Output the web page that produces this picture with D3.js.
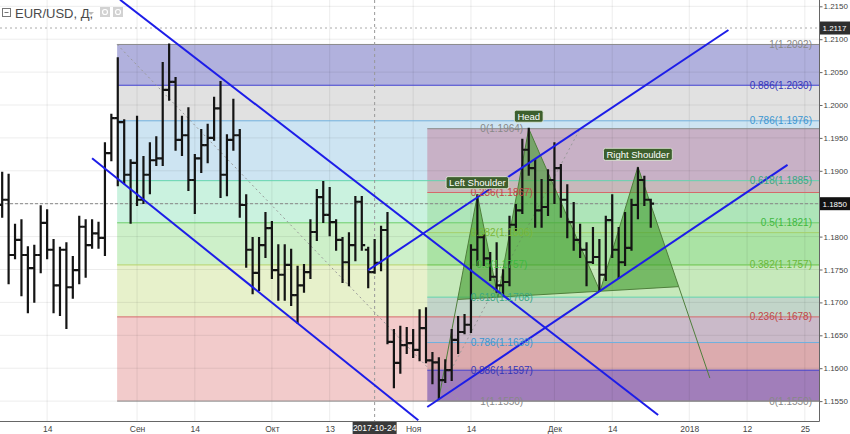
<!DOCTYPE html>
<html><head><meta charset="utf-8">
<script src="https://cdn.jsdelivr.net/npm/d3@7"></script>
<style>
body{margin:0;background:#fff;}
svg{display:block;font-family:"Liberation Sans",Arial,sans-serif;}
</style></head><body>
<svg id="c" width="850" height="434"></svg>
<script>
// ---------- DATA ----------
// bar index 0 = 2017-09-01 (trading-day index), first bar = -21 (2017-08-03)
const firstIndex = -21;
const opens = [1.1848,1.1856,1.1772,1.1795,1.1772,1.1752,1.1772,1.1821,1.1780,1.1726,1.1780,1.1723,1.1749,1.1815,1.1787,1.1805,1.1798,1.1927,1.1980,1.1974,1.1894,
1.1912,1.1856,1.1894,1.1916,1.1919,1.2023,1.2035,1.1947,1.1954,1.1886,1.1919,1.1939,1.1950,1.1995,1.1894,1.1947,1.1954,1.1848,1.1780,1.1745,1.1787,
1.1813,1.1749,1.1742,1.1757,1.1711,1.1726,1.1746,1.1807,1.1860,1.1833,1.1822,1.1795,1.1761,1.1787,1.1853,1.1780,1.1746,1.1760,1.1810,1.1640,1.1608,1.1635,
1.1638,1.1628,1.1661,1.1612,1.1609,1.1582,1.1597,1.1643,1.1655,1.1666,1.1780,1.1799,1.1767,1.1739,1.1726,1.1731,1.1818,1.1840,1.1932,1.1904,1.1840,1.1845,
1.1886,1.1904,1.1856,1.1822,1.1795,1.1780,1.1761,1.1769,1.1742,1.1825,1.1780,1.1761,1.1783,1.1848,1.1886,1.1856];
const highs = [1.1897,1.1894,1.1818,1.1825,1.1784,1.1786,1.1846,1.1840,1.1795,1.1783,1.1790,1.1769,1.1830,1.1825,1.1825,1.1821,1.1942,1.1985,1.2071,1.1977,1.1916,
1.1982,1.1921,1.1942,1.1951,1.2064,1.2092,1.2041,1.1982,1.1995,1.1924,1.1962,1.1970,1.2011,1.2035,1.1954,1.2008,1.1962,1.1863,1.1798,1.1798,1.1836,
1.1822,1.1787,1.1787,1.1780,1.1754,1.1757,1.1825,1.1871,1.1883,1.1874,1.1825,1.1798,1.1805,1.1860,1.1860,1.1783,1.1795,1.1815,1.1836,1.1658,1.1663,1.1661,
1.1658,1.1688,1.1691,1.1623,1.1615,1.1612,1.1658,1.1678,1.1681,1.1787,1.1863,1.1802,1.1775,1.1790,1.1749,1.1830,1.1848,1.1947,1.1964,1.1916,1.1886,1.1901,
1.1942,1.1909,1.1878,1.1851,1.1818,1.1790,1.1813,1.1795,1.1830,1.1863,1.1813,1.1836,1.1856,1.1904,1.1891,1.1856];
const lows = [1.1830,1.1729,1.1767,1.1711,1.1685,1.1701,1.1746,1.1767,1.1685,1.1681,1.1661,1.1707,1.1729,1.1739,1.1783,1.1783,1.1772,1.1916,1.1878,1.1881,1.1821,
1.1848,1.1851,1.1866,1.1909,1.1909,1.2008,1.1932,1.1924,1.1871,1.1836,1.1898,1.1913,1.1947,1.1860,1.1863,1.1932,1.1830,1.1754,1.1714,1.1719,1.1769,
1.1737,1.1704,1.1704,1.1696,1.1669,1.1716,1.1737,1.1795,1.1822,1.1802,1.1780,1.1731,1.1726,1.1764,1.1780,1.1723,1.1745,1.1749,1.1638,1.1571,1.1593,1.1623,
1.1617,1.1612,1.1609,1.1577,1.1554,1.1579,1.1582,1.1623,1.1653,1.1655,1.1757,1.1757,1.1734,1.1716,1.1711,1.1726,1.1810,1.1836,1.1894,1.1815,1.1815,1.1833,
1.1851,1.1830,1.1799,1.1780,1.1769,1.1726,1.1760,1.1718,1.1734,1.1769,1.1737,1.1757,1.1780,1.1828,1.1848,1.1815];
const closes = [1.1856,1.1772,1.1795,1.1772,1.1752,1.1772,1.1821,1.1780,1.1726,1.1780,1.1723,1.1749,1.1815,1.1787,1.1805,1.1798,1.1927,1.1980,1.1974,1.1894,1.1912,
1.1856,1.1894,1.1916,1.1919,1.2023,1.2035,1.1947,1.1954,1.1886,1.1919,1.1939,1.1950,1.1995,1.1894,1.1947,1.1954,1.1848,1.1780,1.1745,1.1787,1.1813,
1.1749,1.1742,1.1757,1.1711,1.1726,1.1746,1.1807,1.1860,1.1833,1.1822,1.1795,1.1761,1.1787,1.1853,1.1787,1.1746,1.1760,1.1810,1.1640,1.1608,1.1635,1.1638,
1.1628,1.1661,1.1612,1.1609,1.1582,1.1597,1.1643,1.1655,1.1666,1.1780,1.1799,1.1767,1.1739,1.1726,1.1731,1.1818,1.1840,1.1932,1.1904,1.1840,1.1845,1.1886,
1.1904,1.1856,1.1822,1.1795,1.1780,1.1761,1.1769,1.1742,1.1825,1.1780,1.1761,1.1783,1.1848,1.1886,1.1856,1.1850];

const xTickIdx = [-14,0,9,21,30,43,52,65,74,86,95,104];
const xTickLabels = ["14","Сен","14","Окт","13","Ноя","14","Дек","14","2018","12","25"];
const priceTicks = [1.155,1.160,1.165,1.170,1.175,1.180,1.185,1.190,1.195,1.200,1.205,1.210,1.215];

// Fibonacci retracements
const fibLStart = -3.1;
const fibLRatios = ["1","0.886","0.786","0.618","0.5","0.382","0.236","0"];
const fibLPrices = [1.2092,1.2030,1.1976,1.1885,1.1821,1.1757,1.1678,1.1550];
const fibLTrend = [[-3.1,1.2092],[50.3,1.1550]];
const fibRStart = 45.2;
const fibRRatios = ["0","0.236","0.382","0.5","0.618","0.786","0.886","1"];
const fibRPrices = [1.1964,1.1867,1.1806,1.1757,1.1708,1.1639,1.1597,1.1550];
const fibRTrend = [[46.3,1.1550],[69.0,1.1964]];
const fibRLabelIdx = 56.8;

// blue trend / channel lines [idx1, price1, idx2, price2]
const trendLines = [
  [-2.65,1.2160,81.15,1.1529],
  [-7.0,1.1919,43.8,1.1521],
  [36.0,1.1749,92.1,1.2114],
  [45.2,1.1541,101.3,1.1909]
];

// head & shoulders pattern points
const hsIdx   = [47, 53, 56.2, 61, 72.1, 78, 89.2];
const hsPrice = [1.1554, 1.1863, 1.1708, 1.1964, 1.1717, 1.1906, 1.1585];
const hsLabels = ["Left Shoulder","Head","Right Shoulder"];

const crossIdx = 37, crossLabel = "2017-10-24";
const crossPrice = 1.1850;
const markPrice = 1.2117;

// ---------- STYLES ----------
const fibLFill = ["#b1b1dd","#e1e1e1","#cde4f2","#caf2df","#cdf0c9","#e7f1cb","#f2cbcb"];
const fibLLine = ["#8a8a8a","#3f3fcf","#6eb0de","#63d3ae","#6acd6a","#b5d36a","#d46a6a","#8a8a8a"];
const fibLText = ["#888","#3535b8","#3c96d0","#3aa883","#40b840","#6ab83a","#c04848","#888"];
const fibRFill = ["rgba(195,115,145,0.45)","rgba(110,200,100,0.3)","rgba(90,200,80,0.3)","rgba(100,210,140,0.25)","rgba(110,150,200,0.3)","rgba(170,100,110,0.3)","rgba(80,50,170,0.5)"];
const fibRLine = ["#8a8a8a","#d46a6a","#a5d06a","#6acd6a","#63d3ae","#6eb0de","#3f3fcf","#8a8a8a"];
const fibRText = ["#888","#c04848","#7ab83a","#40b840","#3aa883","#3c96d0","#3535b8","#888"];

// ---------- CHART ----------
const plotR = 819, plotB = 421;
const svg = d3.select("#c");
const x = d3.scaleLinear().domain([-21.34, 106.2]).range([0, plotR]);
const y = d3.scaleLinear().domain([1.155, 1.215]).range([401.1, 6.3]);

svg.append("defs").append("clipPath").attr("id","clip")
  .append("rect").attr("x",0).attr("y",0).attr("width",plotR).attr("height",plotB);
const g = svg.append("g").attr("clip-path","url(#clip)");

// left fib bands
for (let k=0;k<fibLFill.length;k++){
  g.append("rect").attr("x",x(fibLStart)).attr("width",plotR-x(fibLStart))
   .attr("y",y(fibLPrices[k])).attr("height",y(fibLPrices[k+1])-y(fibLPrices[k]))
   .attr("fill",fibLFill[k]);
}
// right fib bands
for (let k=0;k<fibRFill.length;k++){
  g.append("rect").attr("x",x(fibRStart)).attr("width",plotR-x(fibRStart))
   .attr("y",y(fibRPrices[k])).attr("height",y(fibRPrices[k+1])-y(fibRPrices[k]))
   .attr("fill",fibRFill[k]);
}
// grid
g.selectAll(".vg").data(xTickIdx).enter().append("line")
  .attr("x1",d=>x(d)).attr("x2",d=>x(d)).attr("y1",0).attr("y2",plotB)
  .attr("stroke","rgba(0,0,0,0.075)").attr("stroke-width",1);
g.selectAll(".hg").data(priceTicks).enter().append("line")
  .attr("x1",0).attr("x2",plotR).attr("y1",d=>y(d)).attr("y2",d=>y(d))
  .attr("stroke","rgba(0,0,0,0.075)").attr("stroke-width",1);

// fib level lines
fibLPrices.forEach((p,k)=>{
  g.append("line").attr("x1",x(fibLStart)).attr("x2",plotR).attr("y1",y(p)).attr("y2",y(p))
   .attr("stroke",fibLLine[k]).attr("stroke-width",1);
});
fibRPrices.forEach((p,k)=>{
  g.append("line").attr("x1",x(fibRStart)).attr("x2",plotR).attr("y1",y(p)).attr("y2",y(p))
   .attr("stroke",fibRLine[k]).attr("stroke-width",1);
});
// fib dotted trend lines
[fibLTrend,fibRTrend].forEach(t=>{
  g.append("line").attr("x1",x(t[0][0])).attr("y1",y(t[0][1])).attr("x2",x(t[1][0])).attr("y2",y(t[1][1]))
   .attr("stroke","#999").attr("stroke-width",1).attr("stroke-dasharray","2,3");
});

// crosshair + price line
g.append("line").attr("x1",0).attr("x2",plotR).attr("y1",y(markPrice)).attr("y2",y(markPrice))
  .attr("stroke","#aaa").attr("stroke-dasharray","2,3");
g.append("line").attr("x1",0).attr("x2",plotR).attr("y1",y(crossPrice)).attr("y2",y(crossPrice))
  .attr("stroke","#888").attr("stroke-dasharray","3,2").attr("stroke-width",1);
g.append("line").attr("x1",x(crossIdx)).attr("x2",x(crossIdx)).attr("y1",0).attr("y2",plotB)
  .attr("stroke","#999").attr("stroke-dasharray","3,3").attr("stroke-width",1);

// head & shoulders
function intersect(a1,a2,b1,b2){
  const d=(a2[0]-a1[0])*(b2[1]-b1[1])-(a2[1]-a1[1])*(b2[0]-b1[0]);
  const t=((b1[0]-a1[0])*(b2[1]-b1[1])-(b1[1]-a1[1])*(b2[0]-b1[0]))/d;
  return [a1[0]+t*(a2[0]-a1[0]), a1[1]+t*(a2[1]-a1[1])];
}
const P = hsIdx.map((d,i)=>[x(d), y(hsPrice[i])]);
const nL = intersect(P[0],P[1],P[2],P[4]);
const nR = intersect(P[5],P[6],P[2],P[4]);
const poly = [nL,P[1],P[2],P[3],P[4],P[5],nR];
g.append("path").attr("d","M"+poly.map(p=>p.join(",")).join("L")+"Z")
  .attr("fill","rgba(65,155,45,0.6)").attr("stroke","#4f7f3c").attr("stroke-width",1);
g.append("line").attr("x1",P[0][0]).attr("y1",P[0][1]).attr("x2",nL[0]).attr("y2",nL[1])
  .attr("stroke","#4f7f3c").attr("stroke-width",1);
g.append("line").attr("x1",nR[0]).attr("y1",nR[1]).attr("x2",P[6][0]).attr("y2",P[6][1])
  .attr("stroke","#4f7f3c").attr("stroke-width",1);

// OHLC bars
const bars = opens.map((o,k)=>({i:firstIndex+k,o,h:highs[k],l:lows[k],c:closes[k]}));
g.selectAll(".bar").data(bars).enter().append("path")
  .attr("d",d=>{const X=x(d.i);
    return `M${X},${y(d.h)-1}V${y(d.l)+1}M${X-3.4},${y(d.o)}H${X}M${X},${y(d.c)}H${X+3.4}`;})
  .attr("stroke","#141414").attr("stroke-width",2.2).attr("fill","none");

// blue trend lines
g.selectAll(".tl").data(trendLines).enter().append("line")
  .attr("x1",d=>x(d[0])).attr("y1",d=>y(d[1])).attr("x2",d=>x(d[2])).attr("y2",d=>y(d[3]))
  .attr("stroke","#1d1de8").attr("stroke-width",2);

// fib labels
fibLPrices.forEach((p,k)=>{
  g.append("text").attr("x",812).attr("y",y(p)).attr("dy","0.35em").attr("text-anchor","end")
   .attr("font-size",10).attr("fill",fibLText[k]).text(fibLRatios[k]+"("+p.toFixed(4)+")");
});
fibRPrices.forEach((p,k)=>{
  g.append("text").attr("x",x(fibRLabelIdx)).attr("y",y(p)).attr("dy","0.35em").attr("text-anchor","middle")
   .attr("font-size",10).attr("fill",fibRText[k]).text(fibRRatios[k]+"("+p.toFixed(4)+")");
});

// H&S labels
[P[1],P[3],P[5]].forEach((pt,k)=>{
  const t = g.append("text").attr("x",pt[0]).attr("y",pt[1]-9).attr("text-anchor","middle")
    .attr("font-size",9.5).attr("fill","#fff").text(hsLabels[k]);
  const bb = t.node().getBBox();
  g.insert("rect", () => t.node()).attr("x",bb.x-3).attr("y",bb.y-0.5).attr("width",bb.width+6).attr("height",bb.height+1)
    .attr("rx",2).attr("fill","#3d5f2d").attr("stroke","#e8f0e0").attr("stroke-width",0.8);
});

// axes
svg.append("line").attr("x1",plotR+0.5).attr("x2",plotR+0.5).attr("y1",0).attr("y2",plotB+0.5).attr("stroke","#666");
svg.append("line").attr("x1",0).attr("x2",plotR+0.5).attr("y1",plotB+0.5).attr("y2",plotB+0.5).attr("stroke","#666");
const yAxis = svg.append("g").attr("transform",`translate(${plotR+0.5},0)`)
  .call(d3.axisRight(y).tickValues(priceTicks).tickFormat(d3.format(".4f")).tickSize(3).tickPadding(1));
yAxis.select(".domain").remove();
yAxis.selectAll("text").attr("font-size",8).attr("fill","#444").attr("font-family","Liberation Sans, Arial");
yAxis.selectAll("line").attr("stroke","#666");
const xAxis = svg.append("g").attr("transform",`translate(0,${plotB+0.5})`)
  .call(d3.axisBottom(x).tickValues(xTickIdx).tickFormat((d,i)=>xTickLabels[i]).tickSize(0).tickPadding(4));
xAxis.select(".domain").remove();
xAxis.selectAll("text").attr("font-size",8.5).attr("fill","#444").attr("font-family","Liberation Sans, Arial");

// badges
function badge(yy,txt,fill){
  svg.append("rect").attr("x",plotR+1).attr("y",yy-6.5).attr("width",31).attr("height",13).attr("fill",fill);
  svg.append("text").attr("x",plotR+3.5).attr("y",yy).attr("dy","0.35em").attr("font-size",8).attr("fill","#fff").text(txt);
}
badge(y(markPrice), markPrice.toFixed(4), "#2e2e2e");
badge(y(crossPrice), crossPrice.toFixed(4), "#121212");
svg.append("rect").attr("x",x(crossIdx)-22).attr("y",plotB+1).attr("width",44).attr("height",13).attr("fill","#3a3a3a");
svg.append("text").attr("x",x(crossIdx)).attr("y",plotB+7.5).attr("dy","0.35em").attr("text-anchor","middle")
  .attr("font-size",8.5).attr("fill","#fff").text(crossLabel);

// legend
const lg = svg.append("g");
lg.append("rect").attr("x",2.5).attr("y",8.5).attr("width",8).attr("height",8).attr("fill","none").attr("stroke","#777");
lg.append("line").attr("x1",4.5).attr("x2",8.5).attr("y1",12.5).attr("y2",12.5).attr("stroke","#777");
lg.append("text").attr("x",15).attr("y",18).attr("font-size",13).attr("fill","#4a4a4a").text("EUR/USD, Д,");
lg.append("path").attr("d","M88,12L94,12L91,15Z").attr("fill","#bbb");
[100,113].forEach(xx=>{
  lg.append("rect").attr("x",xx).attr("y",7).attr("width",10).attr("height",10).attr("fill","#d2d2d2");
  lg.append("circle").attr("cx",xx+5).attr("cy",12).attr("r",2.5).attr("fill","none").attr("stroke","#fff").attr("stroke-width",1.2);
});
</script>
</body></html>
